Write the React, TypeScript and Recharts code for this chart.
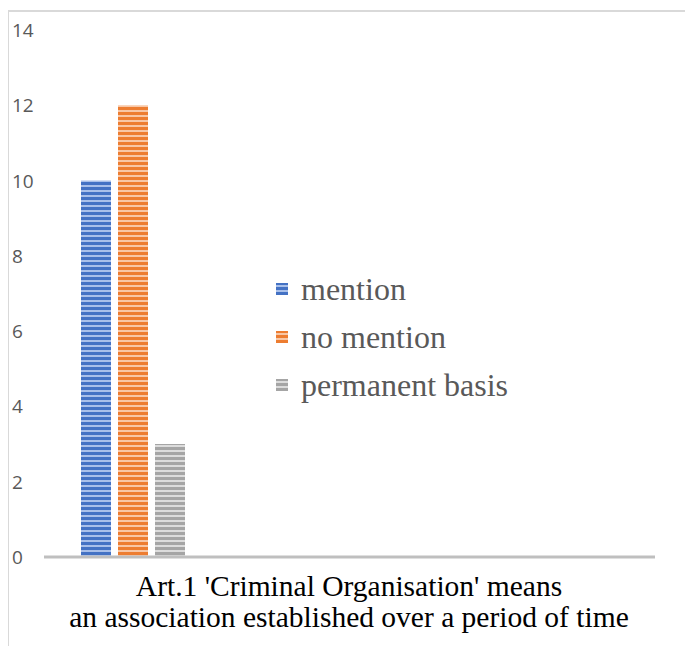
import React from "react";
import { Bar, BarChart, XAxis, YAxis } from "recharts";

const categories = ["Art.1 'Criminal Organisation' means|an association established over a period of time"];
const mention = [10];
const noMention = [12];
const permanentBasis = [3];
const yTicks = [0, 2, 4, 6, 8, 10, 12, 14];

const SERIES = [
  { key: "mention", name: "mention", color: "#4472c4", light: "#a9c0ea" },
  { key: "noMention", name: "no mention", color: "#ed7d31", light: "#f8c7a6" },
  { key: "permanentBasis", name: "permanent basis", color: "#a5a5a5", light: "#dcdcdc" },
];

const data = categories.map((c, i) => ({
  category: c,
  mention: mention[i],
  noMention: noMention[i],
  permanentBasis: permanentBasis[i],
}));

const SERIF = "'Liberation Serif', 'Times New Roman', serif";
const SANS = "'Open Sans', 'Liberation Sans', sans-serif";

function YTick({ y, payload }: any) {
  return (
    <text x={4} y={y} dy={7} fill="#595959" fontSize={19} fontFamily={SANS} textAnchor="start">
      {payload.value}
    </text>
  );
}

// category label is centred under the whole axis, not under the bar group
function XTick({ y, payload }: any) {
  const lines = String(payload.value).split("|");
  return (
    <text x={341} y={y} fill="#000" fontSize={29.5} fontFamily={SERIF} textAnchor="middle">
      {lines.map((l, i) => (
        <tspan key={i} x={341} dy={i === 0 ? 31 : 31}>
          {l}
        </tspan>
      ))}
    </text>
  );
}

function LegendBox() {
  return (
    <div
      style={{
        position: "absolute",
        left: 268,
        top: 257,
        fontFamily: SERIF,
        fontSize: 32,
        color: "#595959",
        lineHeight: 1,
      }}
    >
      {SERIES.map((s) => (
        <div key={s.key} style={{ display: "flex", alignItems: "center", height: 48 }}>
          <svg width={12} height={12} style={{ marginRight: 13 }}>
            <rect width={12} height={12} fill={`url(#stripe-${s.key})`} />
          </svg>
          <span>{s.name}</span>
        </div>
      ))}
    </div>
  );
}

export default function App() {
  return (
    <div style={{ position: "relative", width: 685, height: 638 }}>
      <div
        style={{
          position: "absolute",
          left: -1,
          top: 2,
          right: 0,
          bottom: 0,
          borderLeft: "2px solid #d9d9d9",
          borderTop: "2px solid #d9d9d9",
        }}
      />
      <svg width={0} height={0} style={{ position: "absolute" }}>
        <defs>
          {SERIES.map((s) => (
            <pattern key={s.key} id={`stripe-${s.key}`} width={6} height={5} patternUnits="userSpaceOnUse">
              <rect width={6} height={5} fill={s.color} />
              <rect y={2} width={6} height={2} fill={s.light} />
            </pattern>
          ))}
        </defs>
      </svg>
      <BarChart
        width={685}
        height={638}
        data={data}
        margin={{ top: 22, right: 38, bottom: 0, left: 0 }}
        barGap={7}
        barSize={30}
        barCategoryGap={38}
        style={{ position: "absolute", left: 0, top: 0 }}
      >
        <YAxis
          domain={[0, 14]}
          ticks={yTicks}
          width={36}
          axisLine={false}
          tickLine={false}
          tick={<YTick />}
          interval={0}
        />
        <XAxis
          dataKey="category"
          height={89}
          padding={{ left: 0, right: 433 }}
          axisLine={{ stroke: "#bfbfbf", strokeWidth: 3 }}
          tickLine={false}
          tick={<XTick />}
          interval={0}
        />
        {SERIES.map((s) => (
          <Bar key={s.key} dataKey={s.key} name={s.name} fill={`url(#stripe-${s.key})`} isAnimationActive={false} />
        ))}
      </BarChart>
      <LegendBox />
    </div>
  );
}
